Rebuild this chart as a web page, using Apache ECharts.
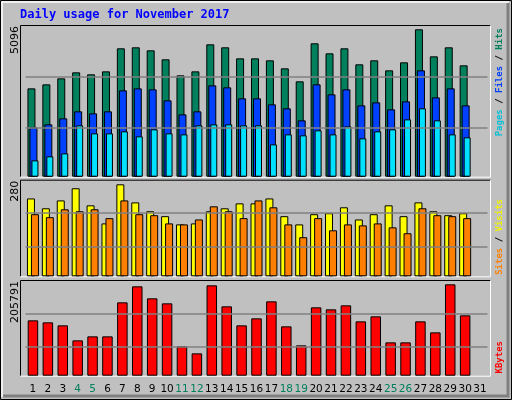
<!DOCTYPE html>
<html><head><meta charset="utf-8">
<script src="https://cdn.jsdelivr.net/npm/echarts@6/dist/echarts.min.js"></script>
<style>html,body{margin:0;padding:0;background:#c0c0c0}#c{width:512px;height:400px}</style>
</head><body><div id="c"></div>
<script>
const days = ['1','2','3','4','5','6','7','8','9','10','11','12','13','14','15','16','17','18','19','20','21','22','23','24','25','26','27','28','29','30','31'];
const weekends = ['4','5','11','12','18','19','25','26'];
const hits = [3055,3194,3401,3609,3540,3643,4439,4474,4370,4059,3505,3643,4577,4474,4093,4093,4024,3747,3298,4612,4266,4439,3886,4024,3678,3955,5096,4162,4474,3851,null];
const files = [1706,1810,2018,2260,2191,2260,2986,3055,3021,2640,2156,2260,3159,3090,2710,2710,2502,2364,1949,3194,2848,3021,2467,2571,2329,2606,3678,2744,3055,2467,null];
const pages = [565,703,807,1776,1499,1499,1568,1395,1637,1499,1464,1776,1810,1810,1776,1776,1118,1464,1430,1603,1464,1741,1326,1568,1637,1983,2364,1949,1464,1361,null];
const sites = [237,207,231,268,216,161,280,225,198,183,158,161,198,207,222,222,237,183,158,189,192,210,173,189,216,183,225,198,186,192,null];
const visits = [189,180,204,198,204,177,231,189,186,161,158,173,213,198,177,231,210,158,119,177,140,158,155,161,149,131,207,186,183,177,null];
const kbytes = [124683,120176,113416,79617,88630,88630,165242,201295,174255,162988,66097,50324,203548,156229,113416,129189,167495,111163,68350,153975,149469,158482,122429,133696,75110,75110,122429,97643,205791,135949,null];
const maxLabels = ['5096','280','205791'];

const panels = [{top:26,h:150.7},{top:180.7,h:95.6},{top:281,h:94.7}];
const axMax = [5211,291,213307];
const gridVals = [[1706,3470],[91,192],[66097,140456]];
const font = 'DejaVu Sans';
const grids = panels.map(p=>({left:25.5,right:24.5,top:p.top,height:p.h,show:false}));
const xAxes = panels.map((p,i)=>({type:'category',gridIndex:i,data:days,
  axisLine:{show:false},axisTick:{show:false},
  axisLabel:i===2?{show:true,interval:0,margin:8,fontFamily:font,fontSize:10.5,
    formatter:v=>weekends.includes(v)?'{w|'+v+'}':'{n|'+v+'}',
    rich:{w:{color:'#00805c',fontFamily:font,fontSize:10.5},n:{color:'#000',fontFamily:font,fontSize:10.5}}}:{show:false}}));
const yAxes = panels.map((p,i)=>({type:'value',gridIndex:i,min:0,max:axMax[i],
  axisLine:{show:false},axisTick:{show:false},axisLabel:{show:false},splitLine:{show:false}}));
const ml = i=>({silent:true,symbol:'none',label:{show:false},lineStyle:{color:'#808080',type:'solid',width:1.5},data:gridVals[i].map(v=>({yAxis:v}))});
const bs = (name,data,color,g,w,gap,extra)=>Object.assign({type:'bar',name,data,xAxisIndex:g,yAxisIndex:g,barWidth:w,barGap:gap,
  itemStyle:{color,borderColor:'#000',borderWidth:1},animation:false},extra||{});
const series = [
  bs('Hits',hits,'#00805c',0,8,'-75%',{markLine:ml(0)}),
  bs('Files',files,'#0040ff',0,8,'-75%'),
  bs('Pages',pages,'#00e0ff',0,7,'-75%'),
  bs('Visits',sites,'#ffff00',1,8,'-50%',{markLine:ml(1)}),
  bs('Sites',visits,'#ff8000',1,8,'-50%'),
  bs('KBytes',kbytes,'#ff0000',2,10.5,'0%',{markLine:ml(2)})
];
const graphic = [
  {type:'rect',z:-10,shape:{x:0.5,y:0.5,width:511,height:399},style:{fill:'#c0c0c0',stroke:'#000',lineWidth:1}},
  {type:'polyline',z:-9,shape:{points:[[2,397],[2,2],[509,2]]},style:{stroke:'#fff',fill:null,lineWidth:1.5}},
  {type:'polyline',z:-9,shape:{points:[[3,396],[508,396],[508,3]]},style:{stroke:'#808080',fill:null,lineWidth:3}},
  {type:'text',x:20,y:15,style:{text:'Daily usage for November 2017',fill:'#0000ff',font:'bold 12px "DejaVu Sans Mono"',textVerticalAlign:'middle'}},
];
panels.forEach((p,i)=>{
  graphic.push({type:'rect',z:-8,shape:{x:20.5,y:p.top-1,width:470,height:p.h+1},style:{fill:'#c0c0c0',stroke:null}});
  graphic.push({type:'polyline',z:-7,shape:{points:[[20.5,p.top+p.h],[20.5,p.top-0.5],[490.5,p.top-0.5]]},style:{stroke:'#000',fill:null,lineWidth:1}});
  graphic.push({type:'polyline',z:-7,shape:{points:[[20.5,p.top+p.h+0.5],[490.5,p.top+p.h+0.5],[490.5,p.top-0.5]]},style:{stroke:'#fff',fill:null,lineWidth:1}});
  graphic.push({type:'text',x:15,y:p.top,rotation:Math.PI/2,style:{text:maxLabels[i],fill:'#000',font:'11px "DejaVu Sans"',textAlign:'right',textVerticalAlign:'middle'}});
});
const rf = c=>({fill:c,font:'bold 9px "DejaVu Sans Mono"'});
const rl = (y,txt,rich)=>({type:'text',x:500,y,rotation:Math.PI/2,style:{text:txt,rich,font:'bold 9px "DejaVu Sans Mono"',textAlign:'right',textVerticalAlign:'middle'}});
graphic.push(rl(28,'{p|Pages} {s|/} {f|Files} {s|/} {h|Hits}',{p:rf('#00c0d8'),f:rf('#0040ff'),h:rf('#00805c'),s:rf('#000')}));
graphic.push(rl(199,'{a|Sites} {s|/} {b|Visits}',{a:rf('#ff8000'),b:rf('#f0f000'),s:rf('#000')}));
graphic.push(rl(341,'{k|KBytes}',{k:rf('#ff0000')}));
const chart = echarts.init(document.getElementById('c'));
chart.setOption({animation:false,backgroundColor:'#c0c0c0',grid:grids,xAxis:xAxes,yAxis:yAxes,series,graphic});
</script></body></html>
